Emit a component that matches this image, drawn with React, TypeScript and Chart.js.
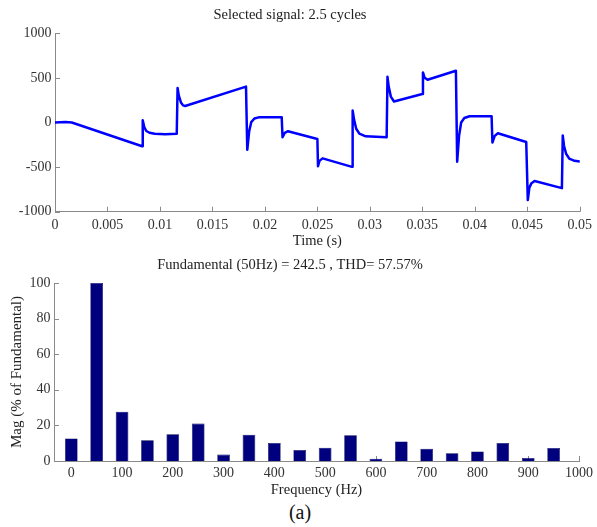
import React, { useEffect, useRef } from "react";
import { Chart, registerables } from "chart.js";

Chart.register(...registerables);

// ---------- Data ----------
const TIME_S = [
  0, 0.001, 0.0016, 0.0083, 0.00836, 0.0085, 0.0087, 0.009, 0.0095, 0.0105, 0.0116,
  0.01168, 0.0118, 0.012, 0.0122, 0.0124, 0.0182, 0.01832, 0.0185, 0.0187, 0.019,
  0.0195, 0.0216, 0.02168, 0.0219, 0.0222, 0.025, 0.02506, 0.0252, 0.0255, 0.0283,
  0.02836, 0.0285, 0.0287, 0.029, 0.0296, 0.0316, 0.03168, 0.0318, 0.032, 0.0323,
  0.035, 0.03506, 0.0352, 0.0355, 0.0382, 0.03832, 0.0385, 0.0387, 0.039, 0.0395,
  0.0416, 0.04168, 0.0419, 0.0422, 0.0449, 0.04505, 0.0452, 0.0454, 0.0457, 0.0483,
  0.04838, 0.0485, 0.0487, 0.049, 0.0495, 0.05,
];
const SIGNAL = [
  0, 5, 0, -266, 25, -50, -95, -115, -127, -132, -125,
  386, 300, 225, 192, 185, 402, -306, -100, 5, 45,
  60, 60, -164, -115, -98, -185, -490, -430, -402, -497,
  134, 30, -70, -125, -155, -165, 512, 400, 290, 235,
  320, 561, 505, 479, 580, -440, -150, 0, 50, 70,
  70, -225, -150, -120, -218, -870, -730, -680, -655, -736,
  -146, -260, -350, -405, -430, -437,
];
const TIME_TICKS = [0, 0.005, 0.01, 0.015, 0.02, 0.025, 0.03, 0.035, 0.04, 0.045, 0.05];
const SIGNAL_TICKS = [-1000, -500, 0, 500, 1000];

const FREQS = [0, 50, 100, 150, 200, 250, 300, 350, 400, 450, 500, 550, 600, 650, 700, 750, 800, 850, 900, 950];
const MAGS = [12.7, 100, 27.7, 11.6, 15, 21, 3.6, 14.8, 10.1, 6.2, 7.5, 14.4, 1.3, 11, 6.9, 4.3, 5.4, 10.1, 1.7, 7.3];
const FREQ_TICKS = [0, 100, 200, 300, 400, 500, 600, 700, 800, 900, 1000];
const MAG_TICKS = [0, 20, 40, 60, 80, 100];

const TOP_TITLE = "Selected signal: 2.5 cycles";
const TOP_XLABEL = "Time (s)";
const BOT_TITLE = "Fundamental (50Hz) = 242.5 , THD= 57.57%";
const BOT_XLABEL = "Frequency (Hz)";
const BOT_YLABEL = "Mag (% of Fundamental)";
const CAPTION = "(a)";

// ---------- Styles ----------
const FONT = '"Liberation Serif", "Times New Roman", serif';
const AXIS_COLOR = "#8a8a8a";
const TEXT_COLOR = "#222";
const TICK_COLOR = "#333";

const inwardTicks = {
  id: "inwardTicks",
  beforeDatasetsDraw(chart: any) {
    const ctx = chart.ctx;
    const { left, bottom } = chart.chartArea;
    const xs = chart.scales.x;
    const ys = chart.scales.y;
    ctx.save();
    ctx.strokeStyle = AXIS_COLOR;
    ctx.lineWidth = 1;
    xs.ticks.forEach((t: any) => {
      const px = Math.round(xs.getPixelForValue(t.value)) + 0.5;
      ctx.beginPath();
      ctx.moveTo(px, bottom);
      ctx.lineTo(px, bottom - 5);
      ctx.stroke();
    });
    ys.ticks.forEach((t: any) => {
      const py = Math.round(ys.getPixelForValue(t.value)) + 0.5;
      ctx.beginPath();
      ctx.moveTo(left, py);
      ctx.lineTo(left + 5, py);
      ctx.stroke();
    });
    ctx.restore();
  },
};

function fixedTicks(values: number[]) {
  return (s: any) => {
    s.ticks = values.map((v) => ({ value: v }));
  };
}

const fmt = (v: any) => String(+Number(v).toFixed(4));

export default function App() {
  const topRef = useRef<HTMLCanvasElement | null>(null);
  const botRef = useRef<HTMLCanvasElement | null>(null);

  useEffect(() => {
    const top = new Chart(topRef.current as HTMLCanvasElement, {
      type: "line",
      data: {
        datasets: [
          {
            data: TIME_S.map((t, i) => ({ x: t, y: SIGNAL[i] })),
            borderColor: "#0000FF",
            borderWidth: 2.5,
            borderJoinStyle: "round",
            borderCapStyle: "round",
            pointRadius: 0,
            tension: 0,
            fill: false,
          },
        ],
      },
      options: {
        responsive: false,
        animation: false,
        layout: { padding: { left: 0, right: 17, top: 0, bottom: 0 } },
        plugins: {
          legend: { display: false },
          tooltip: { enabled: false },
          title: {
            display: true,
            text: TOP_TITLE,
            color: TEXT_COLOR,
            font: { family: FONT, size: 14.5, weight: "normal" },
            padding: { top: 6.9, bottom: 9.0 },
          },
        },
        scales: {
          x: {
            type: "linear",
            min: 0,
            max: 0.05,
            afterBuildTicks: fixedTicks(TIME_TICKS),
            afterFit: (s: any) => {
              s.height = 38.3;
            },
            grid: { display: false, drawTicks: false },
            border: { display: true, color: AXIS_COLOR, width: 1 },
            ticks: {
              color: TICK_COLOR,
              font: { family: FONT, size: 14 },
              padding: 5,
              maxRotation: 0,
              autoSkip: false,
              callback: fmt,
            },
            title: {
              display: true,
              text: TOP_XLABEL,
              color: TEXT_COLOR,
              font: { family: FONT, size: 14.5 },
              padding: { top: 0, bottom: 0.6 },
            },
          },
          y: {
            type: "linear",
            min: -1000,
            max: 1000,
            afterBuildTicks: fixedTicks(SIGNAL_TICKS),
            afterFit: (s: any) => {
              s.width = 55;
            },
            grid: { display: false, drawTicks: false },
            border: { display: true, color: AXIS_COLOR, width: 1 },
            ticks: {
              color: TICK_COLOR,
              font: { family: FONT, size: 14 },
              padding: 3.5,
              autoSkip: false,
              callback: fmt,
            },
          },
        },
      },
      plugins: [inwardTicks],
    } as any);

    const bot = new Chart(botRef.current as HTMLCanvasElement, {
      type: "bar",
      data: {
        datasets: [
          {
            data: FREQS.map((f, i) => ({ x: f, y: MAGS[i] })),
            backgroundColor: "#00007F",
            borderColor: "#000050",
            borderWidth: 0.6,
            categoryPercentage: 1,
            barPercentage: 0.5,
          },
        ],
      },
      options: {
        responsive: false,
        animation: false,
        layout: { padding: { left: 0, right: 17, top: 0, bottom: 0 } },
        plugins: {
          legend: { display: false },
          tooltip: { enabled: false },
          title: {
            display: true,
            text: BOT_TITLE,
            color: TEXT_COLOR,
            font: { family: FONT, size: 14.5, weight: "normal" },
            padding: { top: 6.9, bottom: 8.7 },
          },
        },
        scales: {
          x: {
            type: "linear",
            min: -34,
            max: 1000,
            offset: false,
            afterBuildTicks: fixedTicks(FREQ_TICKS),
            afterFit: (s: any) => {
              s.height = 39;
            },
            grid: { display: false, drawTicks: false, offset: false },
            border: { display: true, color: AXIS_COLOR, width: 1 },
            ticks: {
              color: TICK_COLOR,
              font: { family: FONT, size: 14 },
              padding: 4,
              maxRotation: 0,
              autoSkip: false,
              callback: fmt,
            },
            title: {
              display: true,
              text: BOT_XLABEL,
              color: TEXT_COLOR,
              font: { family: FONT, size: 14.5 },
              padding: { top: 0, bottom: 1.3 },
            },
          },
          y: {
            type: "linear",
            min: 0,
            max: 100,
            afterBuildTicks: fixedTicks(MAG_TICKS),
            afterFit: (s: any) => {
              s.width = 54;
            },
            grid: { display: false, drawTicks: false },
            border: { display: true, color: AXIS_COLOR, width: 1 },
            ticks: {
              color: TICK_COLOR,
              font: { family: FONT, size: 14 },
              padding: 3.5,
              autoSkip: false,
              callback: fmt,
            },
            title: {
              display: true,
              text: BOT_YLABEL,
              color: TEXT_COLOR,
              font: { family: FONT, size: 15 },
              padding: { top: 8.5, bottom: 0 },
            },
          },
        },
      },
      plugins: [inwardTicks],
    } as any);

    let alive = true;
    if ((document as any).fonts && (document as any).fonts.ready) {
      (document as any).fonts.ready.then(() => {
        if (alive) {
          top.update();
          bot.update();
        }
      });
    }

    return () => {
      alive = false;
      top.destroy();
      bot.destroy();
    };
  }, []);

  return (
    <div
      style={{
        position: "absolute",
        left: 0,
        top: 0,
        width: 597,
        height: 527,
        background: "#fff",
        overflow: "hidden",
        fontFamily: FONT,
      }}
    >
      <canvas ref={topRef} width={597} height={250} style={{ position: "absolute", left: 0, top: 0 }} />
      <canvas ref={botRef} width={597} height={250} style={{ position: "absolute", left: 0, top: 250 }} />
      <div
        style={{
          position: "absolute",
          left: 0,
          top: 500,
          width: 600,
          textAlign: "center",
          fontFamily: FONT,
          fontSize: 20,
          lineHeight: "24px",
          color: "#111",
        }}
      >
        {CAPTION}
      </div>
    </div>
  );
}
